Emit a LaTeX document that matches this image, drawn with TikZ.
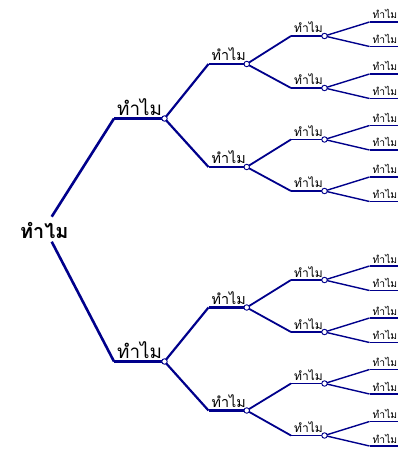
\documentclass[tikz,border=0pt]{standalone}
\usepackage{fontspec}
\newfontfamily\thaifont[Script=Thai]{Loma}
\definecolor{navy}{RGB}{0,0,139}
\newcommand\fLzero{\thaifont\bfseries\fontsize{19.8}{23}\selectfont}
\newcommand\fLone{\thaifont\fontsize{18.8}{22}\selectfont}
\newcommand\fLtwo{\thaifont\fontsize{14.3}{17}\selectfont}
\newcommand\fLthree{\thaifont\fontsize{12}{14}\selectfont}
\newcommand\fLfour{\thaifont\fontsize{10.3}{12}\selectfont}
\newcommand\WTopic[6]{%
  \coordinate (#1-s) at (#2,#4);
  \coordinate (#1) at (#3,#4);
  \node[lbl, font=#5] (#1-t) at ([xshift=3pt, yshift=3pt]#1-s) {ทำไม};
  \draw[#6] (#1-s) -- (#1);
}
\begin{document}
\begin{tikzpicture}[x=1pt,y=-1pt,
  br0/.style={draw=navy, line width=2.6pt},
  br1/.style={draw=navy, line width=2.2pt},
  br2/.style={draw=navy, line width=1.8pt},
  br3/.style={draw=navy, line width=1.4pt},
  dot/.style={circle, draw=navy, fill=white, line width=0.9pt, inner sep=0pt, minimum size=5.5pt},
  lbl/.style={anchor=base west, inner sep=0pt, text=black}]
\useasboundingbox (0,0) rectangle (412,454);
% root
\node[lbl, font=\fLzero] (root) at (20,238) {ทำไม};
\coordinate (root-up) at (51.7,216.7);
\coordinate (root-dn) at (51.7,241.7);
% level 1
\WTopic{a}{114}{164.5}{118.5}{\fLone}{br0}
\WTopic{b}{114}{164.5}{361.5}{\fLone}{br0}
\draw[br0] (root-up) -- (a-s);
\draw[br0] (root-dn) -- (b-s);
% level 2
\foreach \n/\y/\p in {aa/64/a, ab/167/a, ba/307.5/b, bb/410.5/b}{
  \WTopic{\n}{208.5}{246.7}{\y}{\fLtwo}{br1}
  \draw[br1] (\p) -- (\n-s);
}
% level 3 and leaves
\foreach \n/\y/\p in {aaa/36/aa, aab/88/aa, aba/139.5/ab, abb/191/ab, baa/280/ba, bab/332/ba, bba/383.5/bb, bbb/435.5/bb}{
  \WTopic{\n}{291}{324.5}{\y}{\fLthree}{br2}
  \draw[br2] (\p) -- (\n-s);
  \WTopic{\n-a}{369.5}{398}{\y-14}{\fLfour}{br3}
  \WTopic{\n-b}{369.5}{398}{\y+10.5}{\fLfour}{br3}
  \draw[br3] (\n) -- (\n-a-s);
  \draw[br3] (\n) -- (\n-b-s);
}
% junction circles
\foreach \n in {a,b,aa,ab,ba,bb,aaa,aab,aba,abb,baa,bab,bba,bbb}{
  \node[dot] (\n-c) at (\n) {};
}
\end{tikzpicture}
\end{document}
